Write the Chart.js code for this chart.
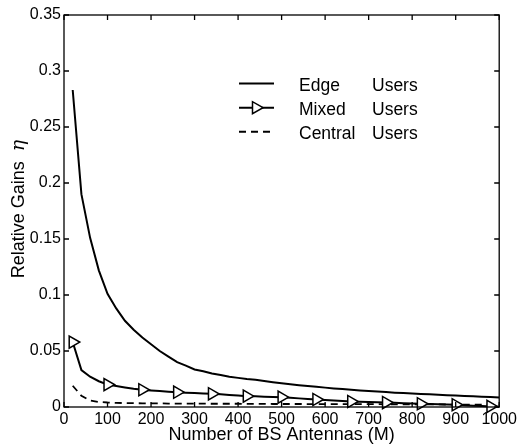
<!DOCTYPE html>
<html>
<head>
<meta charset="utf-8">
<script src="https://cdn.jsdelivr.net/npm/chart.js@4.4.0/dist/chart.umd.min.js"></script>
<style>
  html, body { margin: 0; padding: 0; background: #fff; }
  #wrap { width: 520px; height: 445px; }
</style>
</head>
<body>
<div id="wrap"><canvas id="gains" width="520" height="445"></canvas></div>
<script>
// number of BS antennas M
var antennas = [20, 40, 60, 80, 100, 120, 140, 160, 180, 200,
                220, 240, 260, 280, 300, 320, 340, 360, 380, 400,
                420, 440, 460, 480, 500, 520, 540, 560, 580, 600,
                620, 640, 660, 680, 700, 720, 740, 760, 780, 800,
                820, 840, 860, 880, 900, 920, 940, 960, 980, 1000];
var edgeUsers = [0.283, 0.190, 0.151, 0.122, 0.101, 0.088, 0.077, 0.069, 0.062, 0.056,
                 0.050, 0.045, 0.040, 0.037, 0.0335, 0.032, 0.030, 0.0285, 0.027, 0.026,
                 0.025, 0.0243, 0.0232, 0.0222, 0.0212, 0.0203, 0.0195, 0.0187, 0.018, 0.0173,
                 0.0166, 0.016, 0.0154, 0.0148, 0.0143, 0.0138, 0.0133, 0.0128, 0.0124, 0.012,
                 0.0116, 0.0113, 0.011, 0.0106, 0.0103, 0.0099, 0.0096, 0.0092, 0.0089, 0.0085];
var mixedUsers = [0.058, 0.033, 0.027, 0.023, 0.020, 0.0188, 0.0175, 0.0163, 0.0154, 0.0148,
                  0.0142, 0.0137, 0.0132, 0.0128, 0.0124, 0.0121, 0.0118, 0.0113, 0.0108, 0.0102,
                  0.0097, 0.0095, 0.0092, 0.009, 0.0088, 0.0083, 0.0077, 0.0072, 0.0067, 0.0063,
                  0.0058, 0.0054, 0.0049, 0.0047, 0.0044, 0.0042, 0.004, 0.0037, 0.0034, 0.0032,
                  0.0029, 0.0027, 0.0024, 0.0022, 0.002, 0.0016, 0.0012, 0.0009, 0.0005, 0.0003];
var centralUsers = [0.019, 0.010, 0.0058, 0.0045, 0.004, 0.0037, 0.0035, 0.0034, 0.0033, 0.0032,
                    0.0032, 0.0031, 0.0031, 0.003, 0.003, 0.003, 0.0029, 0.0029, 0.0029, 0.0029,
                    0.0028, 0.0028, 0.0028, 0.0027, 0.0027, 0.0027, 0.0027, 0.0026, 0.0026, 0.0026,
                    0.0026, 0.0026, 0.0025, 0.0025, 0.0025, 0.0025, 0.0024, 0.0024, 0.0024, 0.0023,
                    0.0023, 0.0023, 0.0023, 0.0022, 0.0022, 0.0022, 0.0022, 0.0021, 0.0021, 0.0021];
var seriesNames = ['Edge', 'Mixed', 'Central'];
var xTicks = [0, 100, 200, 300, 400, 500, 600, 700, 800, 900, 1000];
var xTickLabels = ['0', '100', '200', '300', '400', '500', '600', '700', '800', '900', '1000'];
var yTicks = [0, 0.05, 0.1, 0.15, 0.2, 0.25, 0.3, 0.35];
var yTickLabels = ['0', '0.05', '0.1', '0.15', '0.2', '0.25', '0.3', '0.35'];
var xTitle = 'Number of BS Antennas (M)';
var yTitle = 'Relative Gains';

var FONT = '"Liberation Sans", Arial, Helvetica, sans-serif';
var ETA_FONT = 'italic 19px "DejaVu Serif", "Liberation Serif", serif';

function points(ys) {
    return antennas.map(function (m, i) { return { x: m, y: ys[i] }; });
}

// markers on the mixed curve every 80 antennas, starting at 20
function mixedRadius(c) {
    var m = antennas[c.dataIndex];
    return ((m - 20) % 80 === 0) ? 7 : 0;
}

var frame = {
    id: 'frame-and-legend',
    afterDraw: function (chart) {
        var c = chart.ctx, a = chart.chartArea;
        var xs = chart.scales.x, ys = chart.scales.y;
        c.save();
        c.strokeStyle = '#000';
        c.lineWidth = 1.3;
        c.strokeRect(a.left, a.top, a.right - a.left, a.bottom - a.top);
        c.beginPath();
        xTicks.forEach(function (v) {
            var px = xs.getPixelForValue(v);
            c.moveTo(px, a.bottom); c.lineTo(px, a.bottom - 5);
            c.moveTo(px, a.top); c.lineTo(px, a.top + 5);
        });
        yTicks.forEach(function (v) {
            var py = ys.getPixelForValue(v);
            c.moveTo(a.left, py); c.lineTo(a.left + 5, py);
            c.moveTo(a.right, py); c.lineTo(a.right - 5, py);
        });
        c.stroke();

        // axis titles
        c.fillStyle = '#000';
        c.font = '18px ' + FONT;
        c.textAlign = 'center';
        c.textBaseline = 'alphabetic';
        c.fillText(xTitle, (a.left + a.right) / 2, 440);
        c.save();
        c.translate(24, (a.top + a.bottom) / 2 - 2);
        c.rotate(-Math.PI / 2);
        c.font = '18px ' + FONT;
        var w1 = c.measureText(yTitle + '  ').width;
        c.font = ETA_FONT;
        var w2 = c.measureText('\u03b7').width;
        c.textAlign = 'left';
        c.font = '18px ' + FONT;
        c.fillText(yTitle, -(w1 + w2) / 2, 0);
        c.font = ETA_FONT;
        c.fillText('\u03b7', -(w1 + w2) / 2 + w1, 0);
        c.restore();

        // legend
        var rows = [83.5, 107.7, 131.7];
        chart.data.datasets.forEach(function (ds, i) {
            var y = rows[i];
            c.save();
            c.strokeStyle = '#000';
            c.lineWidth = 2;
            c.setLineDash(ds.borderDash || []);
            c.beginPath();
            c.moveTo(239, y); c.lineTo(274, y);
            c.stroke();
            c.restore();
            if (i === 1) {
                c.save();
                c.translate(256, y);
                c.lineWidth = 1.5;
                c.fillStyle = '#fff';
                c.beginPath();
                c.moveTo(7, 0);
                c.lineTo(-3.5, -6);
                c.lineTo(-3.5, 6);
                c.closePath();
                c.fill(); c.stroke();
                c.restore();
            }
            c.font = '17.5px ' + FONT;
            c.textAlign = 'left';
            c.fillStyle = '#000';
            c.fillText(seriesNames[i], 299, y + 7.5);
            c.fillText('Users', 372, y + 7.5);
        });
        c.restore();
    }
};

new Chart(document.getElementById('gains'), {
    type: 'line',
    data: {
        datasets: [{
            label: 'Edge Users',
            data: points(edgeUsers),
            borderColor: '#000',
            borderWidth: 2,
            pointRadius: 0,
            tension: 0
        }, {
            label: 'Mixed Users',
            data: points(mixedUsers),
            borderColor: '#000',
            borderWidth: 2,
            pointStyle: 'triangle',
            rotation: 90,
            pointRadius: mixedRadius,
            pointBorderWidth: 1.5,
            pointBackgroundColor: '#fff',
            pointBorderColor: '#000',
            clip: false,
            tension: 0
        }, {
            label: 'Central Users',
            data: points(centralUsers),
            borderColor: '#000',
            borderWidth: 1.8,
            borderDash: [7, 5],
            pointRadius: 0,
            tension: 0
        }]
    },
    options: {
        responsive: false,
        animation: false,
        events: [],
        layout: { padding: { left: 0, top: 15, right: 16, bottom: 0 } },
        plugins: { legend: { display: false }, tooltip: { enabled: false } },
        scales: {
            x: {
                type: 'linear',
                min: 0, max: 1000,
                afterBuildTicks: function (s) { s.ticks = xTicks.map(function (v) { return { value: v }; }); },
                afterFit: function (s) { s.height = 38; },
                grid: { display: false, drawTicks: false },
                border: { display: false },
                ticks: {
                    autoSkip: false, maxRotation: 0, padding: 3,
                    color: '#000',
                    font: { family: FONT, size: 16 },
                    callback: function (v, i) { return xTickLabels[i]; }
                }
            },
            y: {
                min: 0, max: 0.35,
                afterBuildTicks: function (s) { s.ticks = yTicks.map(function (v) { return { value: v }; }); },
                afterFit: function (s) { s.width = 64; },
                grid: { display: false, drawTicks: false },
                border: { display: false },
                ticks: {
                    padding: 3,
                    color: '#000',
                    font: { family: FONT, size: 16 },
                    callback: function (v, i) { return yTickLabels[i]; }
                }
            }
        }
    },
    plugins: [frame]
});
</script>
</body>
</html>
